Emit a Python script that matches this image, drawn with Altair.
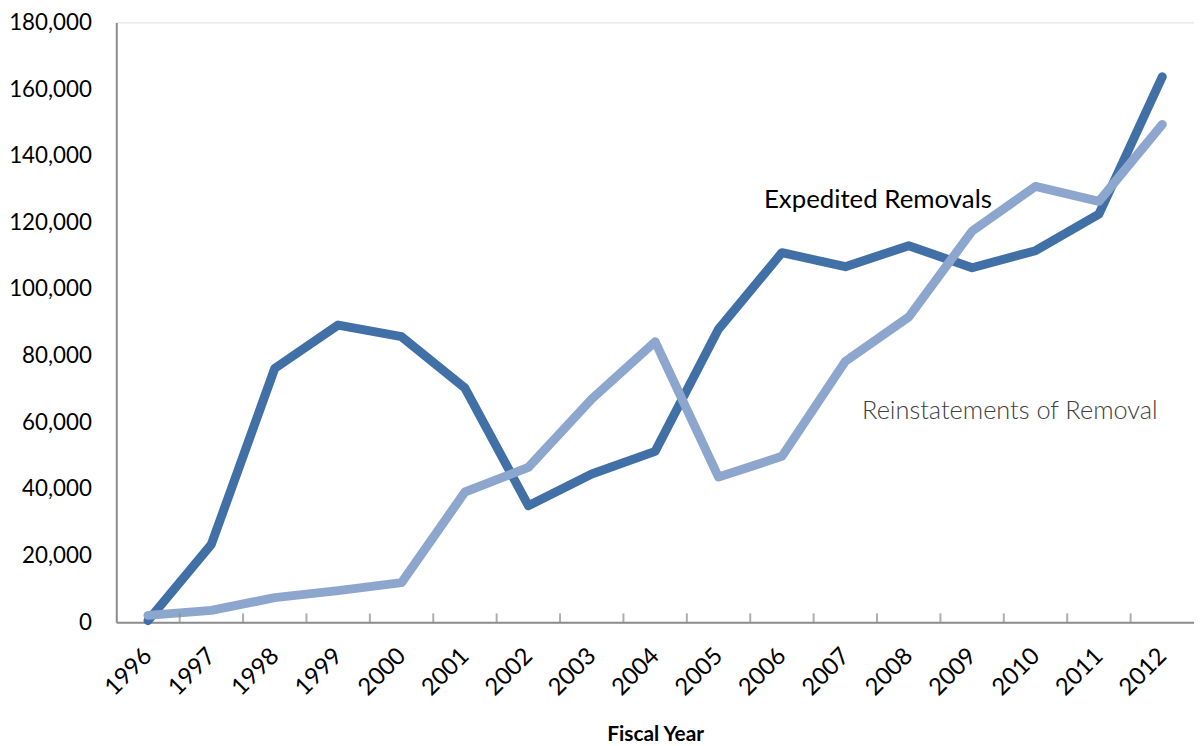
import altair as alt
import pandas as pd

years = [str(y) for y in range(1996, 2013)]
expedited = [500, 23400, 76200, 89200, 85700, 70300, 35000, 44500, 51300,
             88000, 110900, 106700, 113000, 106400, 111500, 122500, 163700]
reinstatements = [2100, 3600, 7400, 9500, 11900, 39100, 46500, 67000, 84200,
                  43600, 49800, 78300, 91600, 117400, 130800, 126300, 149400]
series_names = ["Expedited Removals", "Reinstatements of Removal"]
series_colors = ["#4170A7", "#8DA6CE"]

rows = []
for i, y in enumerate(years):
    rows.append({"year": y, "value": expedited[i], "series": series_names[0]})
    rows.append({"year": y, "value": reinstatements[i], "series": series_names[1]})
df = pd.DataFrame(rows)

FONT = "Lato"
W, H = 1085, 604

xscale = alt.Scale(type="point", domain=years, padding=0.5)
yscale = alt.Scale(domain=[0, 180000])

lines = alt.Chart(df).mark_line(strokeWidth=9, strokeCap="round", strokeJoin="round").encode(
    x=alt.X("year:O", scale=xscale,
            axis=alt.Axis(title="Fiscal Year", labelAngle=-45, labelAlign="right",
                          labelBaseline="middle", labelFontSize=24, labelFont=FONT,
                          labelColor="#000", labelPadding=30, ticks=False,
                          domainColor="#8c8c8c", domainWidth=2,
                          titleFont=FONT, titleFontSize=21, titleFontWeight="bold",
                          titleColor="#000", titlePadding=24)),
    y=alt.Y("value:Q", scale=yscale,
            axis=alt.Axis(title=None, values=list(range(0, 180001, 20000)), format=",d",
                          grid=False, ticks=False, labelFontSize=22.5, labelFont=FONT,
                          labelColor="#000", labelPadding=25,
                          domainColor="#8c8c8c", domainWidth=2)),
    color=alt.Color("series:N", scale=alt.Scale(domain=series_names, range=series_colors),
                    legend=None),
)

tick_df = pd.DataFrame({"year": years[1:], "value": [0] * (len(years) - 1)})
ticks = alt.Chart(tick_df).mark_tick(orient="vertical", size=9, thickness=2,
                                     color="#8c8c8c", xOffset=-W / 34, yOffset=-4.5).encode(
    x=alt.X("year:O", scale=xscale),
    y=alt.Y("value:Q", scale=yscale),
)

lab_df = pd.DataFrame({
    "year": ["2008", "2009"],
    "value": [126600, 63500],
    "text": series_names,
})
lab1 = alt.Chart(lab_df.iloc[[0]]).mark_text(font=FONT, fontSize=26, color="#000",
                                             align="center", baseline="middle", dx=-31).encode(
    x=alt.X("year:O", scale=xscale), y=alt.Y("value:Q", scale=yscale), text="text:N")
lab2 = alt.Chart(lab_df.iloc[[1]]).mark_text(font=FONT, fontSize=25.5, fontWeight=300,
                                             color="#404040", align="center",
                                             baseline="middle", dx=38).encode(
    x=alt.X("year:O", scale=xscale), y=alt.Y("value:Q", scale=yscale), text="text:N")

chart = alt.layer(lines, ticks, lab1, lab2).properties(
    width=W, height=H,
    autosize=alt.AutoSizeParams(type="none"),
    padding={"left": 109, "top": 12, "right": 0, "bottom": 122},
).configure_view(stroke=None).configure(background="white")

chart.save("out.html", embed_options={"renderer": "svg", "actions": False})
